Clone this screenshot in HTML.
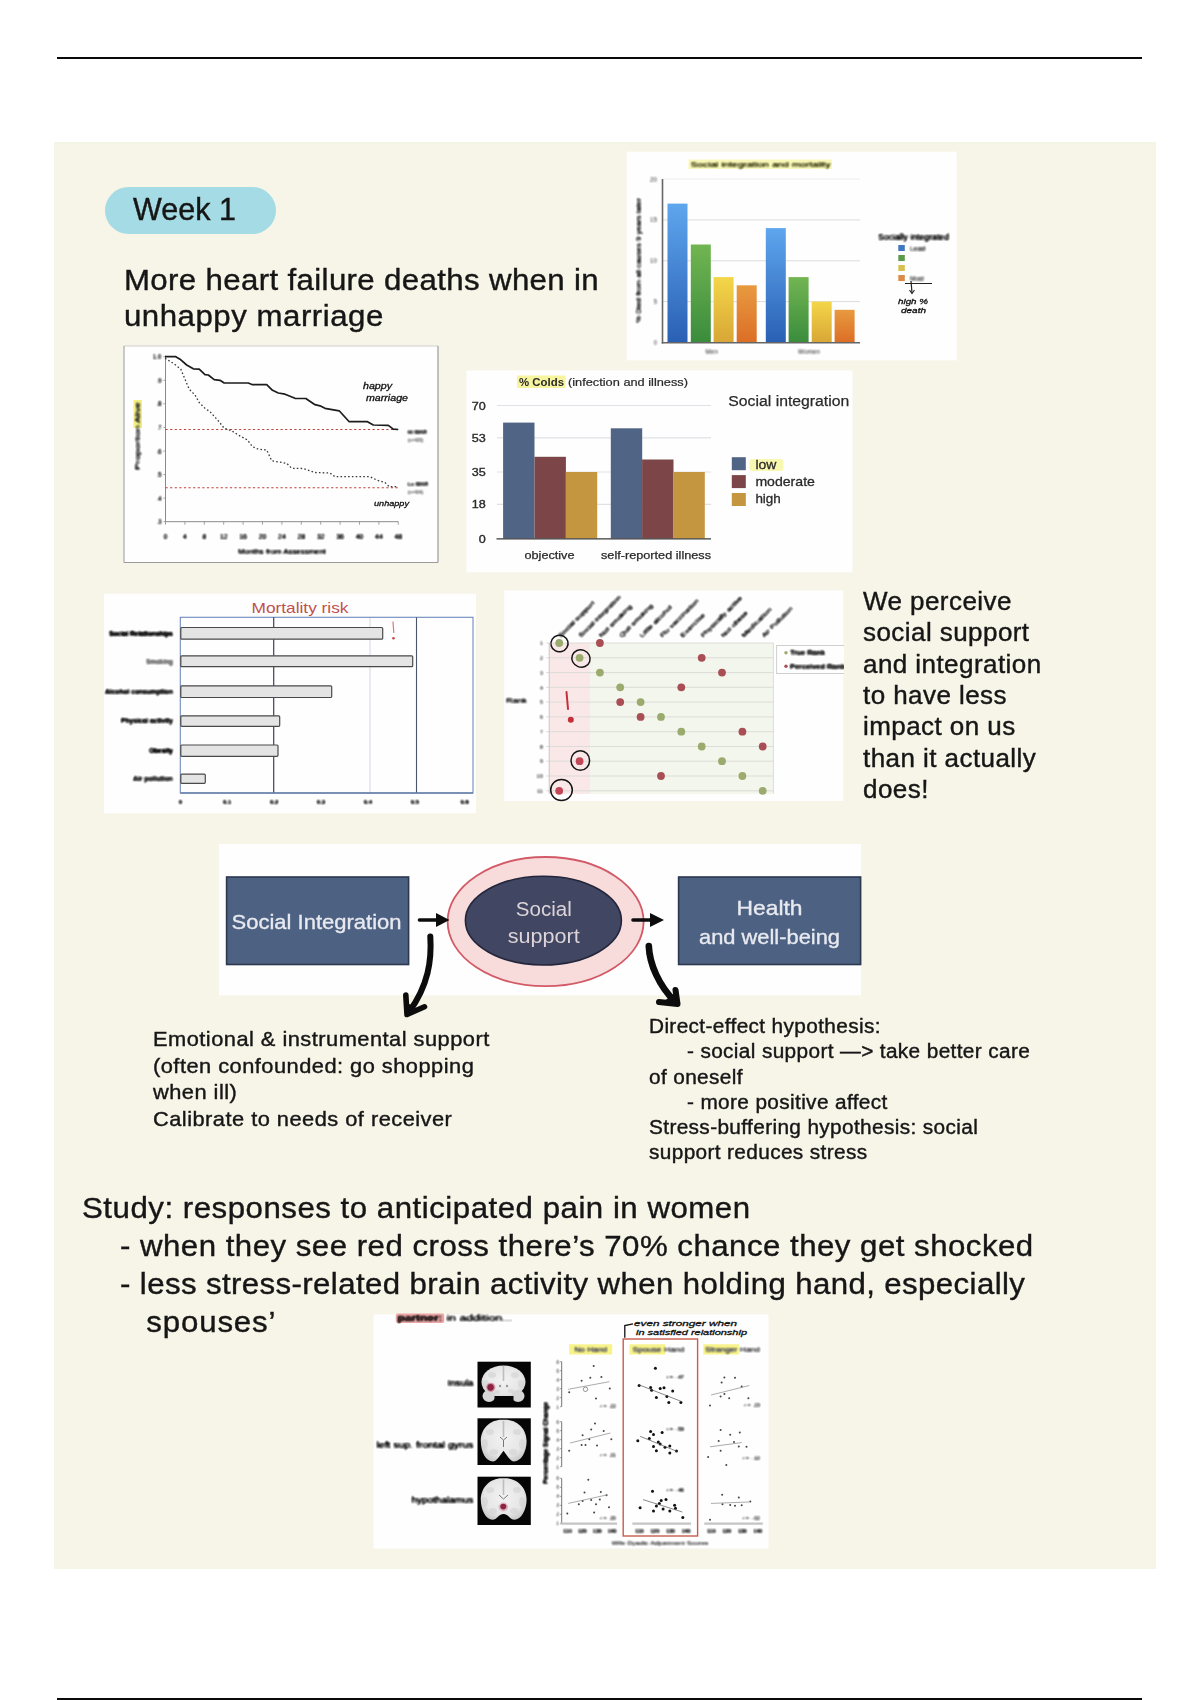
<!DOCTYPE html>
<html>
<head>
<meta charset="utf-8">
<title>Week 1 notes</title>
<style>
  html, body { margin:0; padding:0; background:#ffffff; }
  body { width:1200px; height:1700px; position:relative; overflow:hidden;
         font-family:"Liberation Sans", sans-serif; color:#161616; }
  .abs { position:absolute; }
  .rule { position:absolute; left:57px; width:1085px; height:2px; background:#0a0a0a; }
  #paper { left:54px; top:142px; width:1102px; height:1427px;
           background:linear-gradient(180deg,#f5f5e7 0,#f7f4e8 22px,#f7f4e8 100%); }
  .t { position:absolute; white-space:nowrap; filter:blur(0.35px); -webkit-text-stroke:0.4px #161616; transform-origin:0 0; transform:scaleX(1.04); }
  .big { font-size:30px; line-height:38.1px; letter-spacing:0.5px; }
  .mid { font-size:25px; line-height:31.4px; letter-spacing:0.42px; }
  .sm  { font-size:20px; line-height:25.2px; letter-spacing:0.35px; }
  svg { position:absolute; overflow:visible; }
  svg text { font-family:"Liberation Sans", sans-serif; }
</style>
</head>
<body>
<svg width="0" height="0" style="left:0;top:0"><defs>
<filter id="mush" x="-5%" y="-5%" width="110%" height="110%" color-interpolation-filters="sRGB"><feGaussianBlur stdDeviation="0.9"/><feComponentTransfer><feFuncA type="linear" slope="2.4" intercept="-0.1"/></feComponentTransfer></filter>
</defs></svg>
<div class="rule" style="top:57px"></div>
<div class="rule" style="top:1698px"></div>
<div id="paper" class="abs"></div>

<!-- Week 1 pill -->
<div class="abs" id="pill" style="left:105px;top:186.5px;width:170.5px;height:47.5px;border-radius:24px;background:#a5dbe5;"></div>
<div class="t big" id="week" style="left:133px;top:190.4px;font-size:30.5px;letter-spacing:0;line-height:38px;transform:none;">Week 1</div>

<!-- heading -->
<div class="t big" id="h1" style="left:124px;top:261.6px;line-height:36.75px;"><span style="letter-spacing:0.35px">More heart failure deaths when in</span><br>unhappy marriage</div>

<!-- right note -->
<div class="t mid" id="note" style="left:863px;top:585.8px;">We perceive<br>social support<br>and integration<br>to have less<br>impact on us<br>than it actually<br>does!</div>

<!-- left small text -->
<div class="t sm" id="lt" style="left:153px;top:1026px;font-size:21px;line-height:26.6px;letter-spacing:0.45px;">Emotional &amp; instrumental support<br>(often confounded: go shopping<br>when ill)<br>Calibrate to needs of receiver</div>

<!-- right small text -->
<div class="t sm" id="rt" style="left:649px;top:1014.1px;">Direct-effect hypothesis:<br><span style="padding-left:36.5px">- social support —&gt; take better care</span><br>of oneself<br><span style="padding-left:36.5px">- more positive affect</span><br>Stress-buffering hypothesis: social<br>support reduces stress</div>

<!-- study text -->
<div class="t big" id="study" style="left:82px;top:1188.6px;">Study: responses to anticipated pain in women<br><span style="padding-left:36.5px;letter-spacing:0.47px">- when they see red cross there’s 70% chance they get shocked</span><br><span style="padding-left:36.5px;letter-spacing:0.38px">- less stress-related brain activity when holding hand, especially</span><br><span style="padding-left:61.8px;letter-spacing:0.83px">spouses’</span></div>


<!-- survival curve -->
<svg width="326" height="228" viewBox="118 340 326 228" style="left:118px;top:340px;filter:blur(0.6px);">
<rect x="124.0" y="346.0" width="314.0" height="216.5" fill="#fefefe" />
<line x1="124.0" y1="346.0" x2="438.0" y2="346.0" stroke="#cfcfcf" stroke-width="1" />
<line x1="438.0" y1="346.0" x2="438.0" y2="562.5" stroke="#9a9a9a" stroke-width="1.2" />
<line x1="124.0" y1="346.0" x2="124.0" y2="562.5" stroke="#a8a8a8" stroke-width="1.2" />
<line x1="124.0" y1="562.5" x2="438.0" y2="562.5" stroke="#9a9a9a" stroke-width="1.2" />
<line x1="165.5" y1="355.7" x2="165.5" y2="521.7" stroke="#8a8a8a" stroke-width="1" />
<line x1="165.5" y1="521.7" x2="398.3" y2="521.7" stroke="#8a8a8a" stroke-width="1" />
<line x1="165.5" y1="521.7" x2="165.5" y2="524.7" stroke="#8a8a8a" stroke-width="0.8" />
<line x1="184.9" y1="521.7" x2="184.9" y2="524.7" stroke="#8a8a8a" stroke-width="0.8" />
<line x1="204.3" y1="521.7" x2="204.3" y2="524.7" stroke="#8a8a8a" stroke-width="0.8" />
<line x1="223.7" y1="521.7" x2="223.7" y2="524.7" stroke="#8a8a8a" stroke-width="0.8" />
<line x1="243.1" y1="521.7" x2="243.1" y2="524.7" stroke="#8a8a8a" stroke-width="0.8" />
<line x1="262.5" y1="521.7" x2="262.5" y2="524.7" stroke="#8a8a8a" stroke-width="0.8" />
<line x1="281.9" y1="521.7" x2="281.9" y2="524.7" stroke="#8a8a8a" stroke-width="0.8" />
<line x1="301.3" y1="521.7" x2="301.3" y2="524.7" stroke="#8a8a8a" stroke-width="0.8" />
<line x1="320.7" y1="521.7" x2="320.7" y2="524.7" stroke="#8a8a8a" stroke-width="0.8" />
<line x1="340.1" y1="521.7" x2="340.1" y2="524.7" stroke="#8a8a8a" stroke-width="0.8" />
<line x1="359.5" y1="521.7" x2="359.5" y2="524.7" stroke="#8a8a8a" stroke-width="0.8" />
<line x1="378.9" y1="521.7" x2="378.9" y2="524.7" stroke="#8a8a8a" stroke-width="0.8" />
<line x1="398.3" y1="521.7" x2="398.3" y2="524.7" stroke="#8a8a8a" stroke-width="0.8" />
<line x1="163.5" y1="356.7" x2="165.5" y2="356.7" stroke="#8a8a8a" stroke-width="0.8" />
<line x1="163.5" y1="380.3" x2="165.5" y2="380.3" stroke="#8a8a8a" stroke-width="0.8" />
<line x1="163.5" y1="403.8" x2="165.5" y2="403.8" stroke="#8a8a8a" stroke-width="0.8" />
<line x1="163.5" y1="427.4" x2="165.5" y2="427.4" stroke="#8a8a8a" stroke-width="0.8" />
<line x1="163.5" y1="451.0" x2="165.5" y2="451.0" stroke="#8a8a8a" stroke-width="0.8" />
<line x1="163.5" y1="474.6" x2="165.5" y2="474.6" stroke="#8a8a8a" stroke-width="0.8" />
<line x1="163.5" y1="498.1" x2="165.5" y2="498.1" stroke="#8a8a8a" stroke-width="0.8" />
<line x1="163.5" y1="521.7" x2="165.5" y2="521.7" stroke="#8a8a8a" stroke-width="0.8" />
<rect x="133.5" y="400.0" width="8.5" height="28.0" fill="#f2ee80" />
<line x1="165.5" y1="429.5" x2="398.3" y2="429.5" stroke="#c0403c" stroke-width="1.1" stroke-dasharray="2.2 2.4"/>
<line x1="165.5" y1="487.8" x2="398.3" y2="487.8" stroke="#c0403c" stroke-width="1.1" stroke-dasharray="2.2 2.4"/>
<polyline points="165.0,356.7 175.8,356.7 180.0,359.2 186.7,365.0 193.3,368.8 199.2,369.2 205.0,374.7 208.3,375.0 214.2,379.7 220.0,380.3 224.2,383.0 248.3,383.0 252.5,384.7 266.7,384.7 272.5,390.3 278.3,393.0 285.0,394.2 295.0,398.3 305.8,398.5 315.0,404.7 320.0,405.8 325.0,408.3 339.2,410.8 349.2,421.7 367.5,421.7 373.3,425.0 388.3,425.3 393.3,429.2 398.3,429.5" fill="none" stroke="#1c1c1c" stroke-width="1.7" stroke-linejoin="round"/>
<polyline points="165.0,358.3 173.3,363.3 180.8,369.2 185.0,379.2 189.2,389.2 195.0,395.0 199.2,402.5 205.0,408.3 210.0,411.7 218.3,420.8 224.2,428.3 231.7,430.8 238.3,435.0 247.5,440.0 252.5,446.7 258.3,449.2 266.7,450.0 271.7,460.8 286.7,463.3 291.7,468.3 303.3,468.5 315.0,472.5 330.0,473.0 335.0,476.7 370.0,476.7 376.7,480.0 385.0,482.5 389.2,486.7 398.3,486.7" fill="none" stroke="#3a3a3a" stroke-width="1.3" stroke-dasharray="1.6 2.2"/>
<text x="363.0" y="388.5" font-size="8.5" fill="#111" text-anchor="start" font-weight="normal" class="hw" font-style="italic" stroke="#111" stroke-width="0.3" textLength="29" lengthAdjust="spacingAndGlyphs">happy</text>
<text x="366.0" y="401.0" font-size="8.5" fill="#111" text-anchor="start" font-weight="normal" class="hw" font-style="italic" stroke="#111" stroke-width="0.3" textLength="42" lengthAdjust="spacingAndGlyphs">marriage</text>
<text x="374.0" y="506.0" font-size="8" fill="#111" text-anchor="start" font-weight="normal" class="hw" font-style="italic" stroke="#111" stroke-width="0.3" textLength="35" lengthAdjust="spacingAndGlyphs">unhappy</text>
<g filter="url(#mush)">
<text x="165.5" y="539.3" font-size="7.3" fill="#222" text-anchor="middle" font-weight="normal" >0</text>
<text x="184.9" y="539.3" font-size="7.3" fill="#222" text-anchor="middle" font-weight="normal" >4</text>
<text x="204.3" y="539.3" font-size="7.3" fill="#222" text-anchor="middle" font-weight="normal" >8</text>
<text x="223.7" y="539.3" font-size="7.3" fill="#222" text-anchor="middle" font-weight="normal" >12</text>
<text x="243.1" y="539.3" font-size="7.3" fill="#222" text-anchor="middle" font-weight="normal" >16</text>
<text x="262.5" y="539.3" font-size="7.3" fill="#222" text-anchor="middle" font-weight="normal" >20</text>
<text x="281.9" y="539.3" font-size="7.3" fill="#222" text-anchor="middle" font-weight="normal" >24</text>
<text x="301.3" y="539.3" font-size="7.3" fill="#222" text-anchor="middle" font-weight="normal" >28</text>
<text x="320.7" y="539.3" font-size="7.3" fill="#222" text-anchor="middle" font-weight="normal" >32</text>
<text x="340.1" y="539.3" font-size="7.3" fill="#222" text-anchor="middle" font-weight="normal" >36</text>
<text x="359.5" y="539.3" font-size="7.3" fill="#222" text-anchor="middle" font-weight="normal" >40</text>
<text x="378.9" y="539.3" font-size="7.3" fill="#222" text-anchor="middle" font-weight="normal" >44</text>
<text x="398.3" y="539.3" font-size="7.3" fill="#222" text-anchor="middle" font-weight="normal" >48</text>
<text x="161.5" y="359.2" font-size="6.5" fill="#333" text-anchor="end" font-weight="normal" >1.0</text>
<text x="161.5" y="382.8" font-size="6.5" fill="#333" text-anchor="end" font-weight="normal" >.9</text>
<text x="161.5" y="406.3" font-size="6.5" fill="#333" text-anchor="end" font-weight="normal" >.8</text>
<text x="161.5" y="429.9" font-size="6.5" fill="#333" text-anchor="end" font-weight="normal" >.7</text>
<text x="161.5" y="453.5" font-size="6.5" fill="#333" text-anchor="end" font-weight="normal" >.6</text>
<text x="161.5" y="477.1" font-size="6.5" fill="#333" text-anchor="end" font-weight="normal" >.5</text>
<text x="161.5" y="500.6" font-size="6.5" fill="#333" text-anchor="end" font-weight="normal" >.4</text>
<text x="161.5" y="524.2" font-size="6.5" fill="#333" text-anchor="end" font-weight="normal" >.3</text>
<text x="282.0" y="554.0" font-size="7" fill="#222" text-anchor="middle" font-weight="normal" textLength="88" lengthAdjust="spacingAndGlyphs">Months from Assessment</text>
<text transform="translate(140.3,436) rotate(-90)" font-size="7" fill="#333" text-anchor="middle" textLength="68" lengthAdjust="spacingAndGlyphs">Proportion Alive</text>
<text x="407.5" y="433.5" font-size="5.5" fill="#555" text-anchor="start" font-weight="bold" >Hi MAR</text>
<text x="407.5" y="441.5" font-size="5.5" fill="#888" text-anchor="start" font-weight="normal" >(n=95)</text>
<text x="407.5" y="486.0" font-size="5.5" fill="#555" text-anchor="start" font-weight="bold" >Lo MAR</text>
<text x="407.5" y="494.0" font-size="5.5" fill="#888" text-anchor="start" font-weight="normal" >(n=94)</text>
</g>
</svg>

<!-- mortality bars -->
<svg width="340" height="218" viewBox="622 147 340 218" style="left:622px;top:147px;filter:blur(0.65px);">
<defs>
<linearGradient id="gb" x1="0" y1="0" x2="0" y2="1"><stop offset="0" stop-color="#5ea6ee"/><stop offset="1" stop-color="#2a60b4"/></linearGradient>
<linearGradient id="gg" x1="0" y1="0" x2="0" y2="1"><stop offset="0" stop-color="#72b552"/><stop offset="1" stop-color="#3a8c3c"/></linearGradient>
<linearGradient id="gy" x1="0" y1="0" x2="0" y2="1"><stop offset="0" stop-color="#f4d648"/><stop offset="1" stop-color="#d8a636"/></linearGradient>
<linearGradient id="go" x1="0" y1="0" x2="0" y2="1"><stop offset="0" stop-color="#e89a40"/><stop offset="1" stop-color="#dc6e26"/></linearGradient>
</defs>
<rect x="626.7" y="151.7" width="330.0" height="208.6" fill="#fefefe" />
<line x1="663.0" y1="301.6" x2="860.0" y2="301.6" stroke="#dcdcdc" stroke-width="1" />
<line x1="663.0" y1="260.8" x2="860.0" y2="260.8" stroke="#dcdcdc" stroke-width="1" />
<line x1="663.0" y1="219.9" x2="860.0" y2="219.9" stroke="#dcdcdc" stroke-width="1" />
<line x1="663.0" y1="179.1" x2="860.0" y2="179.1" stroke="#ececec" stroke-width="1" />
<rect x="688.5" y="159.5" width="143.5" height="9.5" fill="#f8f7b8" />
<rect x="667.5" y="203.6" width="20.0" height="138.9" fill="url(#gb)" />
<rect x="690.8" y="244.5" width="20.0" height="98.0" fill="url(#gg)" />
<rect x="713.6" y="277.1" width="20.0" height="65.4" fill="url(#gy)" />
<rect x="736.7" y="285.3" width="20.0" height="57.2" fill="url(#go)" />
<rect x="765.8" y="228.1" width="20.0" height="114.4" fill="url(#gb)" />
<rect x="788.6" y="277.1" width="20.0" height="65.4" fill="url(#gg)" />
<rect x="811.7" y="301.6" width="20.0" height="40.9" fill="url(#gy)" />
<rect x="834.6" y="309.8" width="20.0" height="32.7" fill="url(#go)" />
<line x1="662.5" y1="179.0" x2="662.5" y2="343.5" stroke="#666" stroke-width="1.6" />
<line x1="661.7" y1="342.8" x2="860.0" y2="342.8" stroke="#666" stroke-width="1.6" />
<rect x="898.3" y="245.0" width="6.5" height="6.0" fill="#3f78c0" />
<rect x="898.3" y="255.0" width="6.5" height="6.0" fill="#5a9a4a" />
<rect x="898.3" y="265.0" width="6.5" height="6.0" fill="#d8c050" />
<rect x="898.3" y="275.0" width="6.5" height="6.0" fill="#dc8a48" />
<line x1="905.0" y1="283.5" x2="932.0" y2="283.5" stroke="#222" stroke-width="1" />
<polyline points="911.0,281.0 912.0,293.0" fill="none" stroke="#222" stroke-width="1.2" />
<polyline points="909.5,290.0 912.0,293.5 914.5,290.0" fill="none" stroke="#222" stroke-width="1.1" />
<text x="898.0" y="303.5" font-size="7.5" fill="#111" text-anchor="start" font-weight="normal" class="hw" font-style="italic" stroke="#111" stroke-width="0.3" textLength="30" lengthAdjust="spacingAndGlyphs">high %</text>
<text x="901.0" y="313.0" font-size="7.5" fill="#111" text-anchor="start" font-weight="normal" class="hw" font-style="italic" stroke="#111" stroke-width="0.3" textLength="25" lengthAdjust="spacingAndGlyphs">death</text>
<g filter="url(#mush)">
<text x="760.5" y="167.0" font-size="8" fill="#5a5a30" text-anchor="middle" font-weight="normal" textLength="140" lengthAdjust="spacingAndGlyphs">Social integration and mortality</text>
<text x="657.0" y="345.0" font-size="6.5" fill="#999" text-anchor="end" font-weight="normal" >0</text>
<text x="657.0" y="304.1" font-size="6.5" fill="#999" text-anchor="end" font-weight="normal" >5</text>
<text x="657.0" y="263.3" font-size="6.5" fill="#999" text-anchor="end" font-weight="normal" >10</text>
<text x="657.0" y="222.4" font-size="6.5" fill="#999" text-anchor="end" font-weight="normal" >15</text>
<text x="657.0" y="181.6" font-size="6.5" fill="#999" text-anchor="end" font-weight="normal" >20</text>
<text transform="translate(640.5,260.5) rotate(-90)" font-size="6.8" fill="#333" text-anchor="middle" textLength="125" lengthAdjust="spacingAndGlyphs">% Died from all causes 9 years later</text>
<text x="711.7" y="353.5" font-size="6.5" fill="#999" text-anchor="middle" font-weight="normal" >Men</text>
<text x="809.0" y="353.5" font-size="6.5" fill="#999" text-anchor="middle" font-weight="normal" >Women</text>
<text x="913.5" y="240.0" font-size="8.8" fill="#222" text-anchor="middle" font-weight="normal" textLength="71" lengthAdjust="spacingAndGlyphs">Socially integrated</text>
<text x="910.0" y="251.0" font-size="6.5" fill="#666" text-anchor="start" font-weight="normal" >Least</text>
<text x="910.0" y="281.0" font-size="6.5" fill="#777" text-anchor="start" font-weight="normal" >Most</text>
<text x="910.0" y="261.0" font-size="6.5" fill="#999" text-anchor="start" font-weight="normal" >.</text>
<text x="910.0" y="271.0" font-size="6.5" fill="#999" text-anchor="start" font-weight="normal" >.</text>
</g>
</svg>

<!-- colds -->
<svg width="396" height="211" viewBox="462 366 396 211" style="left:462px;top:366px;filter:blur(0.6px);">
<rect x="466.4" y="370.5" width="386.1" height="201.8" fill="#fefefe" />
<line x1="497.0" y1="405.5" x2="711.0" y2="405.5" stroke="#dfe1e6" stroke-width="1.2" />
<text x="485.8" y="409.5" font-size="11" fill="#2a2a2a" text-anchor="end" font-weight="normal" stroke="#2a2a2a" stroke-width="0.35" textLength="14" lengthAdjust="spacingAndGlyphs">70</text>
<line x1="497.0" y1="437.8" x2="711.0" y2="437.8" stroke="#dfe1e6" stroke-width="1.2" />
<text x="485.8" y="441.8" font-size="11" fill="#2a2a2a" text-anchor="end" font-weight="normal" stroke="#2a2a2a" stroke-width="0.35" textLength="14" lengthAdjust="spacingAndGlyphs">53</text>
<line x1="497.0" y1="472.0" x2="711.0" y2="472.0" stroke="#dfe1e6" stroke-width="1.2" />
<text x="485.8" y="476.0" font-size="11" fill="#2a2a2a" text-anchor="end" font-weight="normal" stroke="#2a2a2a" stroke-width="0.35" textLength="14" lengthAdjust="spacingAndGlyphs">35</text>
<line x1="497.0" y1="504.3" x2="711.0" y2="504.3" stroke="#dfe1e6" stroke-width="1.2" />
<text x="485.8" y="508.3" font-size="11" fill="#2a2a2a" text-anchor="end" font-weight="normal" stroke="#2a2a2a" stroke-width="0.35" textLength="14" lengthAdjust="spacingAndGlyphs">18</text>
<text x="485.8" y="542.5" font-size="11" fill="#2a2a2a" text-anchor="end" font-weight="normal" stroke="#2a2a2a" stroke-width="0.35" textLength="7" lengthAdjust="spacingAndGlyphs">0</text>
<rect x="503.1" y="422.6" width="31.4" height="115.9" fill="#506485" />
<rect x="534.5" y="456.8" width="31.4" height="81.7" fill="#7c4648" />
<rect x="565.8" y="472.0" width="31.4" height="66.5" fill="#c4963f" />
<rect x="610.8" y="428.3" width="31.4" height="110.2" fill="#506485" />
<rect x="642.1" y="459.5" width="31.4" height="79.0" fill="#7c4648" />
<rect x="673.4" y="472.0" width="31.4" height="66.5" fill="#c4963f" />
<line x1="496.5" y1="538.8" x2="711.0" y2="538.8" stroke="#3a3a3a" stroke-width="1.3" />
<rect x="517.0" y="375.5" width="48.5" height="12.5" fill="#f7f4a0" />
<text x="519.0" y="386.0" font-size="10.5" fill="#2a2a2a" text-anchor="start" font-weight="bold" textLength="45" lengthAdjust="spacingAndGlyphs">% Colds</text>
<text x="568.0" y="386.0" font-size="10.5" fill="#2a2a2a" text-anchor="start" font-weight="normal" stroke="#2a2a2a" stroke-width="0.2" textLength="120" lengthAdjust="spacingAndGlyphs">(infection and illness)</text>
<text x="549.5" y="559.0" font-size="11" fill="#2a2a2a" text-anchor="middle" font-weight="normal" stroke="#2a2a2a" stroke-width="0.25" textLength="50" lengthAdjust="spacingAndGlyphs">objective</text>
<text x="656.0" y="559.0" font-size="11" fill="#2a2a2a" text-anchor="middle" font-weight="normal" stroke="#2a2a2a" stroke-width="0.25" textLength="110" lengthAdjust="spacingAndGlyphs">self-reported illness</text>
<text x="728.3" y="406.4" font-size="15.5" fill="#2a2a2a" text-anchor="start" font-weight="normal" stroke="#2a2a2a" stroke-width="0.25" textLength="121" lengthAdjust="spacingAndGlyphs">Social integration</text>
<rect x="749.5" y="459.0" width="34.0" height="12.0" fill="#f9f8b0" rx="3"/>
<rect x="731.8" y="457.2" width="14.0" height="13.0" fill="#506485" />
<text x="755.4" y="469.4" font-size="12.8" fill="#2a2a2a" text-anchor="start" font-weight="normal" stroke="#2a2a2a" stroke-width="0.3" textLength="21" lengthAdjust="spacingAndGlyphs">low</text>
<rect x="731.8" y="475.1" width="14.0" height="13.0" fill="#7c4648" />
<text x="755.4" y="486.0" font-size="12.8" fill="#2a2a2a" text-anchor="start" font-weight="normal" stroke="#2a2a2a" stroke-width="0.3" textLength="59.5" lengthAdjust="spacingAndGlyphs">moderate</text>
<rect x="731.8" y="493.0" width="14.0" height="13.0" fill="#c4963f" />
<text x="755.4" y="502.6" font-size="12.8" fill="#2a2a2a" text-anchor="start" font-weight="normal" stroke="#2a2a2a" stroke-width="0.3" textLength="25.4" lengthAdjust="spacingAndGlyphs">high</text>
</svg>

<!-- mortality risk -->
<svg width="381" height="228" viewBox="100 590 381 228" style="left:100px;top:590px;filter:blur(0.7px);">
<rect x="104.0" y="593.7" width="372.0" height="219.6" fill="#fefefe" />
<text x="300.0" y="612.5" font-size="15" fill="#c0504d" text-anchor="middle" font-weight="normal" textLength="97" lengthAdjust="spacingAndGlyphs">Mortality risk</text>
<line x1="370.0" y1="617.3" x2="370.0" y2="793.0" stroke="#d3d8e4" stroke-width="1" />
<rect x="180.3" y="617.3" width="292.7" height="175.7" fill="none" stroke="#6f8abc" stroke-width="1.1" />
<line x1="273.7" y1="617.3" x2="273.7" y2="793.0" stroke="#3a4458" stroke-width="1.2" />
<line x1="416.5" y1="617.3" x2="416.5" y2="793.0" stroke="#4a546a" stroke-width="1.1" />
<line x1="180.3" y1="793.0" x2="473.0" y2="793.0" stroke="#6a80a8" stroke-width="1.6" />
<rect x="180.8" y="627.5" width="201.9" height="11.7" fill="#e4e4e4" stroke="#4a4a4a" stroke-width="1.2" rx="1"/>
<rect x="180.8" y="655.8" width="231.9" height="10.9" fill="#e4e4e4" stroke="#4a4a4a" stroke-width="1.2" rx="1"/>
<rect x="180.8" y="685.8" width="150.9" height="11.7" fill="#e4e4e4" stroke="#4a4a4a" stroke-width="1.2" rx="1"/>
<rect x="180.8" y="715.8" width="98.9" height="10.5" fill="#e4e4e4" stroke="#4a4a4a" stroke-width="1.2" rx="1"/>
<rect x="180.8" y="745.0" width="97.2" height="11.3" fill="#e4e4e4" stroke="#4a4a4a" stroke-width="1.2" rx="1"/>
<rect x="180.8" y="774.2" width="24.5" height="9.1" fill="#e4e4e4" stroke="#4a4a4a" stroke-width="1.2" rx="1"/>
<polyline points="393.0,621.5 393.8,633.0" fill="none" stroke="#e07878" stroke-width="1.2" />
<circle cx="393.5" cy="638.3" r="1.3" fill="#c84848" />
<g filter="url(#mush)">
<text x="173.0" y="635.6" font-size="6.5" fill="#222" text-anchor="end" font-weight="bold" textLength="64" lengthAdjust="spacingAndGlyphs">Social Relationships</text>
<text x="173.0" y="663.5" font-size="6.5" fill="#888" text-anchor="end" font-weight="bold" textLength="27" lengthAdjust="spacingAndGlyphs">Smoking</text>
<text x="173.0" y="693.9" font-size="6.5" fill="#333" text-anchor="end" font-weight="bold" textLength="68" lengthAdjust="spacingAndGlyphs">Alcohol consumption</text>
<text x="173.0" y="723.2" font-size="6.5" fill="#333" text-anchor="end" font-weight="bold" textLength="52" lengthAdjust="spacingAndGlyphs">Physical activity</text>
<text x="173.0" y="752.9" font-size="6.5" fill="#222" text-anchor="end" font-weight="bold" textLength="24" lengthAdjust="spacingAndGlyphs">Obesity</text>
<text x="173.0" y="781.0" font-size="6.5" fill="#444" text-anchor="end" font-weight="bold" textLength="40" lengthAdjust="spacingAndGlyphs">Air pollution</text>
<text x="180.3" y="804.0" font-size="6" fill="#333" text-anchor="middle" font-weight="bold" >0</text>
<text x="227.2" y="804.0" font-size="6" fill="#333" text-anchor="middle" font-weight="bold" >0.1</text>
<text x="274.1" y="804.0" font-size="6" fill="#333" text-anchor="middle" font-weight="bold" >0.2</text>
<text x="321.0" y="804.0" font-size="6" fill="#333" text-anchor="middle" font-weight="bold" >0.3</text>
<text x="367.9" y="804.0" font-size="6" fill="#333" text-anchor="middle" font-weight="bold" >0.4</text>
<text x="414.8" y="804.0" font-size="6" fill="#333" text-anchor="middle" font-weight="bold" >0.5</text>
<text x="464.7" y="804.0" font-size="6" fill="#333" text-anchor="middle" font-weight="bold" >0.6</text>
</g>
</svg>

<!-- rank -->
<svg width="349" height="219" viewBox="500 587 349 219" style="left:500px;top:587px;filter:blur(0.65px);clip-path:inset(0 5.7px 0 0);">
<rect x="504.2" y="590.5" width="339.1" height="210.5" fill="#fefefe" />
<rect x="549.2" y="643.0" width="224.2" height="150.8" fill="#f3f6ec" />
<rect x="549.2" y="643.0" width="40.8" height="150.8" fill="#fae8e8" />
<line x1="546.2" y1="643.0" x2="773.4" y2="643.0" stroke="#dcdcd8" stroke-width="1" />
<line x1="546.2" y1="657.8" x2="773.4" y2="657.8" stroke="#dcdcd8" stroke-width="1" />
<line x1="546.2" y1="672.6" x2="773.4" y2="672.6" stroke="#dcdcd8" stroke-width="1" />
<line x1="546.2" y1="687.3" x2="773.4" y2="687.3" stroke="#dcdcd8" stroke-width="1" />
<line x1="546.2" y1="702.1" x2="773.4" y2="702.1" stroke="#dcdcd8" stroke-width="1" />
<line x1="546.2" y1="716.9" x2="773.4" y2="716.9" stroke="#dcdcd8" stroke-width="1" />
<line x1="546.2" y1="731.7" x2="773.4" y2="731.7" stroke="#dcdcd8" stroke-width="1" />
<line x1="546.2" y1="746.5" x2="773.4" y2="746.5" stroke="#dcdcd8" stroke-width="1" />
<line x1="546.2" y1="761.2" x2="773.4" y2="761.2" stroke="#dcdcd8" stroke-width="1" />
<line x1="546.2" y1="776.0" x2="773.4" y2="776.0" stroke="#dcdcd8" stroke-width="1" />
<line x1="546.2" y1="790.8" x2="773.4" y2="790.8" stroke="#dcdcd8" stroke-width="1" />
<line x1="549.2" y1="643.0" x2="549.2" y2="793.8" stroke="#c8c8c8" stroke-width="1" />
<line x1="773.4" y1="643.0" x2="773.4" y2="793.8" stroke="#dcdcd8" stroke-width="1" />
<circle cx="559.2" cy="643.0" r="3.9" fill="#9bab6e" />
<circle cx="579.6" cy="657.8" r="3.9" fill="#9bab6e" />
<circle cx="599.9" cy="672.6" r="3.9" fill="#9bab6e" />
<circle cx="620.2" cy="687.3" r="3.9" fill="#9bab6e" />
<circle cx="640.6" cy="702.1" r="3.9" fill="#9bab6e" />
<circle cx="661.0" cy="716.9" r="3.9" fill="#9bab6e" />
<circle cx="681.3" cy="731.7" r="3.9" fill="#9bab6e" />
<circle cx="701.7" cy="746.5" r="3.9" fill="#9bab6e" />
<circle cx="722.0" cy="761.2" r="3.9" fill="#9bab6e" />
<circle cx="742.4" cy="776.0" r="3.9" fill="#9bab6e" />
<circle cx="762.7" cy="790.8" r="3.9" fill="#9bab6e" />
<circle cx="559.2" cy="790.8" r="3.9" fill="#c04858" />
<circle cx="579.6" cy="761.2" r="3.9" fill="#c04858" />
<circle cx="599.9" cy="643.0" r="3.9" fill="#a84e54" />
<circle cx="620.2" cy="702.1" r="3.9" fill="#a84e54" />
<circle cx="640.6" cy="716.9" r="3.9" fill="#a84e54" />
<circle cx="661.0" cy="776.0" r="3.9" fill="#a84e54" />
<circle cx="681.3" cy="687.3" r="3.9" fill="#a84e54" />
<circle cx="701.7" cy="657.8" r="3.9" fill="#a84e54" />
<circle cx="722.0" cy="672.6" r="3.9" fill="#a84e54" />
<circle cx="742.4" cy="731.7" r="3.9" fill="#a84e54" />
<circle cx="762.7" cy="746.5" r="3.9" fill="#a84e54" />
<ellipse cx="559.5" cy="643.5" rx="8.6" ry="8.2" fill="none" stroke="#151515" stroke-width="1.5" transform="rotate(-15 559.5 643.5)"/>
<ellipse cx="581" cy="658.5" rx="9.2" ry="8.6" fill="none" stroke="#151515" stroke-width="1.5" transform="rotate(20 581 658.5)"/>
<ellipse cx="580.3" cy="760.5" rx="9.3" ry="9.8" fill="none" stroke="#151515" stroke-width="1.5"/>
<ellipse cx="561.5" cy="790" rx="10.8" ry="10.6" fill="none" stroke="#151515" stroke-width="1.5"/>
<polyline points="566.5,692.0 568.0,709.0" fill="none" stroke="#c4303a" stroke-width="2" stroke-linecap="round"/>
<circle cx="570.8" cy="719.7" r="3" fill="#c4303a" />
<rect x="776.6" y="645.5" width="70.0" height="28.0" fill="#fefefe" stroke="#cfcfcf" stroke-width="1" />
<circle cx="786.0" cy="652.8" r="1.7" fill="#9bab6e" />
<circle cx="786.0" cy="666.3" r="1.7" fill="#a84e54" />
<g filter="url(#mush)">
<text x="543.0" y="645.2" font-size="6" fill="#777" text-anchor="end" font-weight="normal" >1</text>
<text x="543.0" y="660.0" font-size="6" fill="#777" text-anchor="end" font-weight="normal" >2</text>
<text x="543.0" y="674.8" font-size="6" fill="#777" text-anchor="end" font-weight="normal" >3</text>
<text x="543.0" y="689.5" font-size="6" fill="#777" text-anchor="end" font-weight="normal" >4</text>
<text x="543.0" y="704.3" font-size="6" fill="#777" text-anchor="end" font-weight="normal" >5</text>
<text x="543.0" y="719.1" font-size="6" fill="#777" text-anchor="end" font-weight="normal" >6</text>
<text x="543.0" y="733.9" font-size="6" fill="#777" text-anchor="end" font-weight="normal" >7</text>
<text x="543.0" y="748.7" font-size="6" fill="#777" text-anchor="end" font-weight="normal" >8</text>
<text x="543.0" y="763.4" font-size="6" fill="#777" text-anchor="end" font-weight="normal" >9</text>
<text x="543.0" y="778.2" font-size="6" fill="#777" text-anchor="end" font-weight="normal" >10</text>
<text x="543.0" y="793.0" font-size="6" fill="#777" text-anchor="end" font-weight="normal" >11</text>
<text x="506.0" y="702.5" font-size="7" fill="#333" text-anchor="start" font-weight="normal" textLength="21" lengthAdjust="spacingAndGlyphs">Rank</text>
<text transform="translate(560.7,638) rotate(-45)" font-size="6.3" fill="#222" textLength="49" lengthAdjust="spacingAndGlyphs">Social support</text>
<text transform="translate(581.1,638) rotate(-45)" font-size="6.3" fill="#222" textLength="57" lengthAdjust="spacingAndGlyphs">Social integration</text>
<text transform="translate(601.4,638) rotate(-45)" font-size="6.3" fill="#222" textLength="44" lengthAdjust="spacingAndGlyphs">Not smoking</text>
<text transform="translate(621.8,638) rotate(-45)" font-size="6.3" fill="#222" textLength="45" lengthAdjust="spacingAndGlyphs">Quit smoking</text>
<text transform="translate(642.1,638) rotate(-45)" font-size="6.3" fill="#222" textLength="43" lengthAdjust="spacingAndGlyphs">Little alcohol</text>
<text transform="translate(662.5,638) rotate(-45)" font-size="6.3" fill="#222" textLength="52" lengthAdjust="spacingAndGlyphs">Flu vaccination</text>
<text transform="translate(682.8,638) rotate(-45)" font-size="6.3" fill="#222" textLength="32" lengthAdjust="spacingAndGlyphs">Exercise</text>
<text transform="translate(703.2,638) rotate(-45)" font-size="6.3" fill="#222" textLength="56" lengthAdjust="spacingAndGlyphs">Physically active</text>
<text transform="translate(723.5,638) rotate(-45)" font-size="6.3" fill="#222" textLength="35" lengthAdjust="spacingAndGlyphs">Not obese</text>
<text transform="translate(743.9,638) rotate(-45)" font-size="6.3" fill="#222" textLength="40" lengthAdjust="spacingAndGlyphs">Medication</text>
<text transform="translate(764.2,638) rotate(-45)" font-size="6.3" fill="#222" textLength="41" lengthAdjust="spacingAndGlyphs">Air Pollution</text>
<text x="790.0" y="655.0" font-size="6.3" fill="#444" text-anchor="start" font-weight="bold" textLength="35" lengthAdjust="spacingAndGlyphs">True Rank</text>
<text x="790.0" y="668.6" font-size="6.3" fill="#444" text-anchor="start" font-weight="bold" textLength="55" lengthAdjust="spacingAndGlyphs">Perceived Rank</text>
</g>
</svg>

<!-- diagram -->
<svg width="652" height="162" viewBox="214 839 652 162" style="left:214px;top:839px;filter:blur(0.6px);">
<rect x="219.0" y="844.0" width="642.0" height="151.3" fill="#fefefe" />
<rect x="226.6" y="877.0" width="182.0" height="87.5" fill="#4d6182" stroke="#2c3850" stroke-width="1.6" />
<rect x="678.6" y="877.0" width="182.0" height="87.5" fill="#4d6182" stroke="#2c3850" stroke-width="1.6" />
<text x="316.5" y="928.5" font-size="21" fill="#e8eaf0" text-anchor="middle" font-weight="normal" stroke="#e8eaf0" stroke-width="0.35" textLength="170" lengthAdjust="spacingAndGlyphs">Social Integration</text>
<text x="769.5" y="915.0" font-size="21" fill="#e8eaf0" text-anchor="middle" font-weight="normal" stroke="#e8eaf0" stroke-width="0.35" textLength="66" lengthAdjust="spacingAndGlyphs">Health</text>
<text x="769.5" y="943.5" font-size="21" fill="#e8eaf0" text-anchor="middle" font-weight="normal" stroke="#e8eaf0" stroke-width="0.35" textLength="141" lengthAdjust="spacingAndGlyphs">and well-being</text>
<ellipse cx="545.6" cy="921.6" rx="98" ry="64.6" fill="#f8dcdc" stroke="#d25a66" stroke-width="1.8"/>
<ellipse cx="543.4" cy="920.6" rx="78" ry="44.4" fill="#414662" stroke="#23263a" stroke-width="1.6"/>
<text x="543.8" y="916.0" font-size="20" fill="#dcd4d8" text-anchor="middle" font-weight="normal" textLength="56" lengthAdjust="spacingAndGlyphs">Social</text>
<text x="543.8" y="942.5" font-size="20" fill="#dcd4d8" text-anchor="middle" font-weight="normal" textLength="72" lengthAdjust="spacingAndGlyphs">support</text>
<line x1="419.5" y1="920.0" x2="440.0" y2="920.0" stroke="#0c0c0c" stroke-width="3.6" stroke-linecap="round"/>
<polygon points="436,913 449.5,920 436,927" fill="#0c0c0c"/>
<line x1="633.0" y1="920.0" x2="653.0" y2="920.0" stroke="#0c0c0c" stroke-width="3.6" stroke-linecap="round"/>
<polygon points="650,913 664,920 650,927" fill="#0c0c0c"/>
</svg>
<svg width="290" height="95" viewBox="396 928 290 95" style="left:396px;top:928px;filter:blur(0.5px);">
<path d="M430.3 936.5 C431.8 960 428.5 985 409 1012" stroke="#0c0c0c" stroke-width="6" stroke-linecap="round" stroke-linejoin="round" fill="none"/>
<path d="M405.8 995 L407 1014.5 L424.5 1006.8" stroke="#0c0c0c" stroke-width="5.6" stroke-linecap="round" stroke-linejoin="round" fill="none"/>
<polygon points="406,1002 407,1015 418,1009.5" fill="#0c0c0c"/>
<path d="M648.8 946 C649.5 964 659 986 675 1001.5" stroke="#0c0c0c" stroke-width="6.6" stroke-linecap="round" stroke-linejoin="round" fill="none"/>
<path d="M659 1002 L677.5 1004 L675.5 990" stroke="#0c0c0c" stroke-width="6" stroke-linecap="round" stroke-linejoin="round" fill="none"/>
<polygon points="664,1001 677.5,1004 676,993" fill="#0c0c0c"/>
</svg>

<!-- brain -->
<svg width="404" height="244" viewBox="369 1309 404 244" style="left:369px;top:1309px;filter:blur(0.65px);">
<defs><radialGradient id="br" cx="0.5" cy="0.45" r="0.6"><stop offset="0" stop-color="#f2f2f2"/><stop offset="0.7" stop-color="#e6e6e6"/><stop offset="1" stop-color="#c8c8c8"/></radialGradient></defs>
<rect x="373.5" y="1314.5" width="395.0" height="234.0" fill="#fefefe" />
<rect x="395.8" y="1313.5" width="48.5" height="9.5" fill="#eba5a5" rx="2"/>
<rect x="477.5" y="1361.7" width="53.3" height="45.8" fill="#050505" />
<rect x="477.5" y="1418.3" width="53.3" height="46.7" fill="#050505" />
<rect x="477.5" y="1476.7" width="53.3" height="48.3" fill="#050505" />
<ellipse cx="503.5" cy="1382" rx="22" ry="16.5" fill="url(#br)"/>
<ellipse cx="489" cy="1396" rx="6.5" ry="6" fill="#d6d6d6"/><ellipse cx="518" cy="1396" rx="6.5" ry="6" fill="#d6d6d6"/>
<rect x="494.5" y="1396.0" width="19.0" height="8.0" fill="#050505" />
<line x1="503.5" y1="1366.0" x2="503.5" y2="1381.0" stroke="#bdbdbd" stroke-width="1.6" />
<ellipse cx="492" cy="1375" rx="4" ry="3" fill="#cfcfcf" opacity="0.55"/>
<ellipse cx="515" cy="1375" rx="4" ry="3" fill="#cfcfcf" opacity="0.55"/>
<ellipse cx="486" cy="1384" rx="3" ry="4" fill="#cfcfcf" opacity="0.55"/>
<ellipse cx="521" cy="1384" rx="3" ry="4" fill="#cfcfcf" opacity="0.55"/>
<ellipse cx="497" cy="1392" rx="3" ry="2" fill="#cfcfcf" opacity="0.55"/>
<ellipse cx="511" cy="1391" rx="3" ry="2" fill="#cfcfcf" opacity="0.55"/>
<ellipse cx="490.8" cy="1387.3" rx="4.6" ry="4.6" fill="#c87088" opacity="0.7"/><ellipse cx="490.6" cy="1387.3" rx="3.2" ry="3.4" fill="#8a2440"/>
<circle cx="500.0" cy="1386.0" r="1.2" fill="#999" />
<circle cx="507.0" cy="1386.0" r="1.2" fill="#999" />
<path d="M503.5 1419.8 C516 1418.8 526.6 1428 526.6 1441 C526.6 1452 521 1461.5 514 1461.5 C511 1461.5 508 1457 503.5 1450.7 C499 1457 496 1461.5 493 1461.5 C486 1461.5 480.8 1452 480.8 1441 C480.8 1428 491 1418.8 503.5 1419.8 Z" fill="url(#br)"/>
<line x1="503.5" y1="1421.0" x2="503.5" y2="1437.0" stroke="#bdbdbd" stroke-width="1.6" />
<ellipse cx="490" cy="1432" rx="4" ry="3" fill="#cfcfcf" opacity="0.55"/>
<ellipse cx="517" cy="1432" rx="4" ry="3" fill="#cfcfcf" opacity="0.55"/>
<ellipse cx="485" cy="1444" rx="3" ry="5" fill="#cfcfcf" opacity="0.55"/>
<ellipse cx="522" cy="1444" rx="3" ry="5" fill="#cfcfcf" opacity="0.55"/>
<ellipse cx="494" cy="1452" rx="4" ry="3" fill="#cfcfcf" opacity="0.55"/>
<ellipse cx="513" cy="1452" rx="4" ry="3" fill="#cfcfcf" opacity="0.55"/>
<path d="M500 1437 L503.5 1440 L507 1437 M503.5 1440 L503.5 1447" stroke="#777" stroke-width="1" fill="none"/>
<path d="M503.5 1478.3 C516 1477.3 526.6 1487 526.6 1499.5 C526.6 1510 521 1519.8 514.5 1519.8 C510 1519.8 508.5 1514 503.5 1514 C498.5 1514 497 1519.8 492.5 1519.8 C486 1519.8 480.8 1510 480.8 1499.5 C480.8 1487 491 1477.3 503.5 1478.3 Z" fill="url(#br)"/>
<line x1="503.5" y1="1479.5" x2="503.5" y2="1495.0" stroke="#bdbdbd" stroke-width="1.6" />
<ellipse cx="490" cy="1490" rx="4" ry="3" fill="#cfcfcf" opacity="0.55"/>
<ellipse cx="517" cy="1490" rx="4" ry="3" fill="#cfcfcf" opacity="0.55"/>
<ellipse cx="485" cy="1502" rx="3" ry="5" fill="#cfcfcf" opacity="0.55"/>
<ellipse cx="522" cy="1502" rx="3" ry="5" fill="#cfcfcf" opacity="0.55"/>
<ellipse cx="493" cy="1511" rx="4" ry="3" fill="#cfcfcf" opacity="0.55"/>
<ellipse cx="514" cy="1511" rx="4" ry="3" fill="#cfcfcf" opacity="0.55"/>
<path d="M499 1495 L503.5 1499 L508 1495" stroke="#777" stroke-width="1" fill="none"/>
<ellipse cx="503.4" cy="1507" rx="4.8" ry="4.4" fill="#d8a0b0" opacity="0.7"/><ellipse cx="503.3" cy="1506.6" rx="3" ry="2.8" fill="#8a2440"/>
<line x1="561.7" y1="1361.7" x2="561.7" y2="1406.7" stroke="#666" stroke-width="0.9" />
<line x1="560.0" y1="1361.7" x2="561.7" y2="1361.7" stroke="#666" stroke-width="0.6" />
<line x1="560.0" y1="1370.7" x2="561.7" y2="1370.7" stroke="#666" stroke-width="0.6" />
<line x1="560.0" y1="1379.7" x2="561.7" y2="1379.7" stroke="#666" stroke-width="0.6" />
<line x1="560.0" y1="1388.7" x2="561.7" y2="1388.7" stroke="#666" stroke-width="0.6" />
<line x1="560.0" y1="1397.7" x2="561.7" y2="1397.7" stroke="#666" stroke-width="0.6" />
<line x1="560.0" y1="1406.7" x2="561.7" y2="1406.7" stroke="#666" stroke-width="0.6" />
<line x1="561.7" y1="1421.7" x2="561.7" y2="1466.7" stroke="#666" stroke-width="0.9" />
<line x1="560.0" y1="1421.7" x2="561.7" y2="1421.7" stroke="#666" stroke-width="0.6" />
<line x1="560.0" y1="1430.7" x2="561.7" y2="1430.7" stroke="#666" stroke-width="0.6" />
<line x1="560.0" y1="1439.7" x2="561.7" y2="1439.7" stroke="#666" stroke-width="0.6" />
<line x1="560.0" y1="1448.7" x2="561.7" y2="1448.7" stroke="#666" stroke-width="0.6" />
<line x1="560.0" y1="1457.7" x2="561.7" y2="1457.7" stroke="#666" stroke-width="0.6" />
<line x1="560.0" y1="1466.7" x2="561.7" y2="1466.7" stroke="#666" stroke-width="0.6" />
<line x1="561.7" y1="1478.3" x2="561.7" y2="1523.3" stroke="#666" stroke-width="0.9" />
<line x1="560.0" y1="1478.3" x2="561.7" y2="1478.3" stroke="#666" stroke-width="0.6" />
<line x1="560.0" y1="1487.3" x2="561.7" y2="1487.3" stroke="#666" stroke-width="0.6" />
<line x1="560.0" y1="1496.3" x2="561.7" y2="1496.3" stroke="#666" stroke-width="0.6" />
<line x1="560.0" y1="1505.3" x2="561.7" y2="1505.3" stroke="#666" stroke-width="0.6" />
<line x1="560.0" y1="1514.3" x2="561.7" y2="1514.3" stroke="#666" stroke-width="0.6" />
<line x1="560.0" y1="1523.3" x2="561.7" y2="1523.3" stroke="#666" stroke-width="0.6" />
<rect x="569.2" y="1344.3" width="43.0" height="10.2" fill="#f7f388" />
<rect x="629.5" y="1344.3" width="35.5" height="10.2" fill="#f7f388" />
<rect x="703.3" y="1344.3" width="35.5" height="10.2" fill="#f7f388" />
<rect x="623.2" y="1339.0" width="74.4" height="197.0" fill="none" stroke="#c85c4c" stroke-width="1.4" />
<polyline points="624.8,1337.8 624.8,1325.5 633.0,1323.8" fill="none" stroke="#111" stroke-width="1.3" />
<text x="634.0" y="1325.6" font-size="7.5" fill="#111" text-anchor="start" font-weight="normal" class="hw" font-style="italic" stroke="#111" stroke-width="0.3" textLength="103" lengthAdjust="spacingAndGlyphs">even stronger when</text>
<text x="636.0" y="1335.0" font-size="7.5" fill="#111" text-anchor="start" font-weight="normal" class="hw" font-style="italic" stroke="#111" stroke-width="0.3" textLength="111" lengthAdjust="spacingAndGlyphs">in satisfied relationship</text>
<circle cx="593.7" cy="1366.0" r="1.0" fill="#444" />
<circle cx="581.6" cy="1380.7" r="1.0" fill="#444" />
<circle cx="590.3" cy="1377.8" r="1.0" fill="#444" />
<circle cx="601.4" cy="1376.9" r="1.0" fill="#444" />
<circle cx="609.8" cy="1388.4" r="1.0" fill="#444" />
<circle cx="569.2" cy="1392.2" r="1.0" fill="#444" />
<circle cx="596.0" cy="1398.5" r="1.0" fill="#444" />
<line x1="568.2" y1="1389.3" x2="609.4" y2="1381.7" stroke="#888" stroke-width="0.7" />
<circle cx="655.4" cy="1368.3" r="1.5" fill="#111" />
<circle cx="639.1" cy="1385.5" r="1.5" fill="#111" />
<circle cx="650.6" cy="1387.4" r="1.5" fill="#111" />
<circle cx="651.6" cy="1390.3" r="1.5" fill="#111" />
<circle cx="660.2" cy="1388.4" r="1.5" fill="#111" />
<circle cx="664.0" cy="1387.8" r="1.5" fill="#111" />
<circle cx="672.7" cy="1390.9" r="1.5" fill="#111" />
<circle cx="656.4" cy="1397.6" r="1.5" fill="#111" />
<circle cx="666.9" cy="1396.6" r="1.5" fill="#111" />
<circle cx="668.8" cy="1402.4" r="1.5" fill="#111" />
<circle cx="680.9" cy="1402.4" r="1.5" fill="#111" />
<line x1="638.2" y1="1384.5" x2="682.3" y2="1401.8" stroke="#555" stroke-width="0.7" />
<circle cx="724.4" cy="1377.5" r="1.0" fill="#444" />
<circle cx="735.0" cy="1377.8" r="1.0" fill="#444" />
<circle cx="721.6" cy="1382.6" r="1.0" fill="#444" />
<circle cx="741.7" cy="1386.5" r="1.0" fill="#444" />
<circle cx="724.4" cy="1394.1" r="1.0" fill="#444" />
<circle cx="720.6" cy="1396.6" r="1.0" fill="#444" />
<circle cx="729.2" cy="1398.3" r="1.0" fill="#444" />
<circle cx="748.4" cy="1398.3" r="1.0" fill="#444" />
<circle cx="710.0" cy="1405.6" r="1.0" fill="#444" />
<line x1="711.0" y1="1395.0" x2="749.3" y2="1385.5" stroke="#888" stroke-width="0.7" />
<circle cx="595.0" cy="1423.5" r="1.0" fill="#444" />
<circle cx="591.2" cy="1429.6" r="1.0" fill="#444" />
<circle cx="582.6" cy="1435.3" r="1.0" fill="#444" />
<circle cx="603.7" cy="1431.1" r="1.0" fill="#444" />
<circle cx="611.3" cy="1439.2" r="1.0" fill="#444" />
<circle cx="589.3" cy="1439.2" r="1.0" fill="#444" />
<circle cx="581.6" cy="1444.9" r="1.0" fill="#444" />
<circle cx="569.2" cy="1450.7" r="1.0" fill="#444" />
<circle cx="597.0" cy="1445.5" r="1.0" fill="#444" />
<circle cx="585.5" cy="1444.9" r="1.0" fill="#444" />
<line x1="570.1" y1="1443.0" x2="610.4" y2="1433.0" stroke="#888" stroke-width="0.7" />
<circle cx="662.1" cy="1432.5" r="1.5" fill="#111" />
<circle cx="650.6" cy="1431.5" r="1.5" fill="#111" />
<circle cx="653.5" cy="1434.4" r="1.5" fill="#111" />
<circle cx="637.8" cy="1440.7" r="1.5" fill="#111" />
<circle cx="649.3" cy="1438.6" r="1.5" fill="#111" />
<circle cx="658.3" cy="1442.0" r="1.5" fill="#111" />
<circle cx="660.2" cy="1444.0" r="1.5" fill="#111" />
<circle cx="653.5" cy="1446.5" r="1.5" fill="#111" />
<circle cx="665.0" cy="1447.2" r="1.5" fill="#111" />
<circle cx="669.8" cy="1445.9" r="1.5" fill="#111" />
<circle cx="676.5" cy="1451.0" r="1.5" fill="#111" />
<circle cx="669.8" cy="1453.0" r="1.5" fill="#111" />
<circle cx="656.4" cy="1450.7" r="1.5" fill="#111" />
<line x1="640.1" y1="1436.3" x2="677.5" y2="1451.6" stroke="#555" stroke-width="0.7" />
<circle cx="720.6" cy="1430.0" r="1.0" fill="#444" />
<circle cx="730.2" cy="1434.8" r="1.0" fill="#444" />
<circle cx="739.8" cy="1432.5" r="1.0" fill="#444" />
<circle cx="718.7" cy="1441.1" r="1.0" fill="#444" />
<circle cx="734.0" cy="1442.0" r="1.0" fill="#444" />
<circle cx="746.5" cy="1446.8" r="1.0" fill="#444" />
<circle cx="720.6" cy="1450.7" r="1.0" fill="#444" />
<circle cx="708.1" cy="1457.0" r="1.0" fill="#444" />
<circle cx="726.3" cy="1465.0" r="1.0" fill="#444" />
<circle cx="738.8" cy="1446.5" r="1.0" fill="#444" />
<line x1="710.0" y1="1446.8" x2="741.7" y2="1442.6" stroke="#888" stroke-width="0.7" />
<circle cx="588.3" cy="1479.8" r="1.0" fill="#444" />
<circle cx="584.5" cy="1492.5" r="1.0" fill="#444" />
<circle cx="600.8" cy="1491.9" r="1.0" fill="#444" />
<circle cx="606.5" cy="1495.3" r="1.0" fill="#444" />
<circle cx="582.6" cy="1500.9" r="1.0" fill="#444" />
<circle cx="578.8" cy="1504.3" r="1.0" fill="#444" />
<circle cx="591.2" cy="1499.9" r="1.0" fill="#444" />
<circle cx="596.0" cy="1504.3" r="1.0" fill="#444" />
<circle cx="599.8" cy="1499.6" r="1.0" fill="#444" />
<circle cx="609.0" cy="1507.2" r="1.0" fill="#444" />
<circle cx="567.3" cy="1513.4" r="1.0" fill="#444" />
<circle cx="594.1" cy="1512.4" r="1.0" fill="#444" />
<line x1="568.2" y1="1503.4" x2="607.5" y2="1494.8" stroke="#888" stroke-width="0.7" />
<circle cx="652.5" cy="1491.3" r="1.5" fill="#111" />
<circle cx="666.0" cy="1499.6" r="1.5" fill="#111" />
<circle cx="661.2" cy="1500.5" r="1.5" fill="#111" />
<circle cx="659.3" cy="1503.4" r="1.5" fill="#111" />
<circle cx="656.4" cy="1505.9" r="1.5" fill="#111" />
<circle cx="640.1" cy="1507.8" r="1.5" fill="#111" />
<circle cx="674.6" cy="1505.3" r="1.5" fill="#111" />
<circle cx="653.5" cy="1511.0" r="1.5" fill="#111" />
<circle cx="663.1" cy="1509.1" r="1.5" fill="#111" />
<circle cx="669.8" cy="1511.0" r="1.5" fill="#111" />
<circle cx="675.5" cy="1508.2" r="1.5" fill="#111" />
<circle cx="682.8" cy="1517.4" r="1.5" fill="#111" />
<line x1="643.0" y1="1499.6" x2="682.3" y2="1512.0" stroke="#555" stroke-width="0.7" />
<circle cx="722.1" cy="1494.8" r="1.0" fill="#444" />
<circle cx="750.3" cy="1501.5" r="1.0" fill="#444" />
<circle cx="722.5" cy="1504.3" r="1.0" fill="#444" />
<circle cx="730.2" cy="1504.9" r="1.0" fill="#444" />
<circle cx="735.0" cy="1505.7" r="1.0" fill="#444" />
<circle cx="741.7" cy="1505.3" r="1.0" fill="#444" />
<circle cx="738.8" cy="1497.6" r="1.0" fill="#444" />
<circle cx="710.0" cy="1519.7" r="1.0" fill="#444" />
<line x1="711.0" y1="1503.4" x2="749.3" y2="1502.0" stroke="#888" stroke-width="0.7" />
<circle cx="585.5" cy="1389.3" r="2.2" fill="none" stroke="#666" stroke-width="0.7" />
<line x1="560.5" y1="1523.7" x2="617.0" y2="1523.7" stroke="#c4c4c4" stroke-width="2.2" />
<line x1="632.4" y1="1523.7" x2="691.0" y2="1523.7" stroke="#c4c4c4" stroke-width="2.2" />
<line x1="704.3" y1="1523.7" x2="762.8" y2="1523.7" stroke="#c4c4c4" stroke-width="2.2" />
<g filter="url(#mush)">
<text x="397.5" y="1321.0" font-size="8.5" fill="#3a2a2a" text-anchor="start" font-weight="bold" textLength="45" lengthAdjust="spacingAndGlyphs">partner:</text>
<text x="446.5" y="1321.0" font-size="8.5" fill="#333" text-anchor="start" font-weight="normal" textLength="66" lengthAdjust="spacingAndGlyphs">in addition...</text>
<text x="473.5" y="1386.2" font-size="8.5" fill="#222" text-anchor="end" font-weight="normal" textLength="26" lengthAdjust="spacingAndGlyphs">Insula</text>
<text x="473.5" y="1447.8" font-size="9" fill="#1a1a1a" text-anchor="end" font-weight="normal" textLength="97" lengthAdjust="spacingAndGlyphs">left sup. frontal gyrus</text>
<text x="473.5" y="1502.6" font-size="9" fill="#222" text-anchor="end" font-weight="normal" textLength="62" lengthAdjust="spacingAndGlyphs">hypothalamus</text>
<text transform="translate(548,1443) rotate(-90)" font-size="6.8" fill="#333" text-anchor="middle" font-weight="bold" textLength="82" lengthAdjust="spacingAndGlyphs">Percentage Signal Change</text>
<text x="559.0" y="1363.5" font-size="4.5" fill="#666" text-anchor="end" font-weight="normal" >.6</text>
<text x="559.0" y="1372.5" font-size="4.5" fill="#666" text-anchor="end" font-weight="normal" >.5</text>
<text x="559.0" y="1381.5" font-size="4.5" fill="#666" text-anchor="end" font-weight="normal" >.4</text>
<text x="559.0" y="1390.5" font-size="4.5" fill="#666" text-anchor="end" font-weight="normal" >.3</text>
<text x="559.0" y="1399.5" font-size="4.5" fill="#666" text-anchor="end" font-weight="normal" >.2</text>
<text x="559.0" y="1408.5" font-size="4.5" fill="#666" text-anchor="end" font-weight="normal" >.1</text>
<text x="559.0" y="1423.5" font-size="4.5" fill="#666" text-anchor="end" font-weight="normal" >.6</text>
<text x="559.0" y="1432.5" font-size="4.5" fill="#666" text-anchor="end" font-weight="normal" >.5</text>
<text x="559.0" y="1441.5" font-size="4.5" fill="#666" text-anchor="end" font-weight="normal" >.4</text>
<text x="559.0" y="1450.5" font-size="4.5" fill="#666" text-anchor="end" font-weight="normal" >.3</text>
<text x="559.0" y="1459.5" font-size="4.5" fill="#666" text-anchor="end" font-weight="normal" >.2</text>
<text x="559.0" y="1468.5" font-size="4.5" fill="#666" text-anchor="end" font-weight="normal" >.1</text>
<text x="559.0" y="1480.1" font-size="4.5" fill="#666" text-anchor="end" font-weight="normal" >.6</text>
<text x="559.0" y="1489.1" font-size="4.5" fill="#666" text-anchor="end" font-weight="normal" >.5</text>
<text x="559.0" y="1498.1" font-size="4.5" fill="#666" text-anchor="end" font-weight="normal" >.4</text>
<text x="559.0" y="1507.1" font-size="4.5" fill="#666" text-anchor="end" font-weight="normal" >.3</text>
<text x="559.0" y="1516.1" font-size="4.5" fill="#666" text-anchor="end" font-weight="normal" >.2</text>
<text x="559.0" y="1525.1" font-size="4.5" fill="#666" text-anchor="end" font-weight="normal" >.1</text>
<text x="590.7" y="1352.3" font-size="6.5" fill="#666" text-anchor="middle" font-weight="normal" textLength="33" lengthAdjust="spacingAndGlyphs">No Hand</text>
<text x="632.5" y="1352.3" font-size="6.5" fill="#666" text-anchor="start" font-weight="normal" textLength="52" lengthAdjust="spacingAndGlyphs">Spouse Hand</text>
<text x="705.0" y="1352.3" font-size="6.5" fill="#666" text-anchor="start" font-weight="normal" textLength="55" lengthAdjust="spacingAndGlyphs">Stranger Hand</text>
<text x="616.0" y="1408.0" font-size="5.5" fill="#555" text-anchor="end" font-weight="normal" >r = .22</text>
<text x="684.0" y="1378.5" font-size="5.5" fill="#333" text-anchor="end" font-weight="normal" >r = -.47</text>
<text x="760.0" y="1407.0" font-size="5.5" fill="#555" text-anchor="end" font-weight="normal" >r = .23</text>
<text x="616.0" y="1457.0" font-size="5.5" fill="#555" text-anchor="end" font-weight="normal" >r = .21</text>
<text x="684.0" y="1431.2" font-size="5.5" fill="#333" text-anchor="end" font-weight="normal" >r = -.59</text>
<text x="760.0" y="1460.0" font-size="5.5" fill="#555" text-anchor="end" font-weight="normal" >r = -.10</text>
<text x="616.0" y="1520.0" font-size="5.5" fill="#555" text-anchor="end" font-weight="normal" >r = .20</text>
<text x="684.0" y="1492.0" font-size="5.5" fill="#333" text-anchor="end" font-weight="normal" >r = -.46</text>
<text x="760.0" y="1520.0" font-size="5.5" fill="#555" text-anchor="end" font-weight="normal" >r = -.02</text>
<text x="567.5" y="1532.8" font-size="5.5" fill="#555" text-anchor="middle" font-weight="bold" >110</text>
<text x="582.3" y="1532.8" font-size="5.5" fill="#555" text-anchor="middle" font-weight="bold" >120</text>
<text x="597.2" y="1532.8" font-size="5.5" fill="#555" text-anchor="middle" font-weight="bold" >130</text>
<text x="612.0" y="1532.8" font-size="5.5" fill="#555" text-anchor="middle" font-weight="bold" >140</text>
<text x="639.4" y="1532.8" font-size="5.5" fill="#555" text-anchor="middle" font-weight="bold" >110</text>
<text x="654.9" y="1532.8" font-size="5.5" fill="#555" text-anchor="middle" font-weight="bold" >120</text>
<text x="670.5" y="1532.8" font-size="5.5" fill="#555" text-anchor="middle" font-weight="bold" >130</text>
<text x="686.0" y="1532.8" font-size="5.5" fill="#555" text-anchor="middle" font-weight="bold" >140</text>
<text x="711.3" y="1532.8" font-size="5.5" fill="#555" text-anchor="middle" font-weight="bold" >110</text>
<text x="726.8" y="1532.8" font-size="5.5" fill="#555" text-anchor="middle" font-weight="bold" >120</text>
<text x="742.3" y="1532.8" font-size="5.5" fill="#555" text-anchor="middle" font-weight="bold" >130</text>
<text x="757.8" y="1532.8" font-size="5.5" fill="#555" text-anchor="middle" font-weight="bold" >140</text>
<text x="660.0" y="1545.3" font-size="6" fill="#666" text-anchor="middle" font-weight="normal" textLength="97" lengthAdjust="spacingAndGlyphs">Wife Dyadic Adjustment Scores</text>
</g>
</svg>

</body>
</html>
